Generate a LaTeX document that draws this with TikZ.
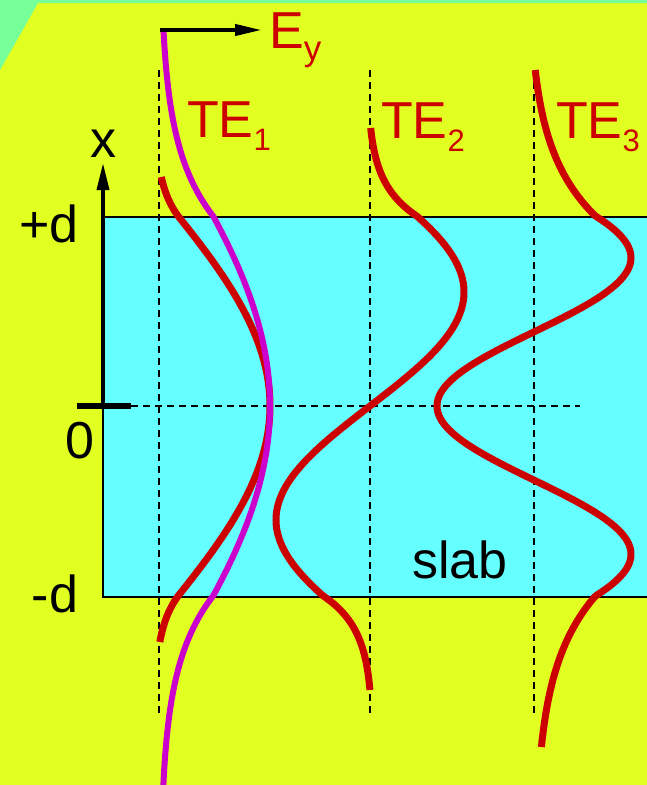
\documentclass[tikz,border=0pt]{standalone}
\usepackage{fontspec}
\setmainfont{Liberation Sans}
\usetikzlibrary{arrows.meta}
\definecolor{bgyellow}{RGB}{226,255,34}
\definecolor{topgreen}{RGB}{119,255,153}
\definecolor{slabcyan}{RGB}{102,255,255}
\definecolor{modered}{RGB}{204,0,0}
\definecolor{modemag}{RGB}{204,0,204}
\newcommand{\mysubscript}[3]{\raisebox{-#1pt}{\fontsize{#2}{#2}\selectfont #3}}
\begin{document}
\begin{tikzpicture}[x=1pt,y=-1pt,
  declare function={
    fm(\u)=(abs(\u)<190) ? 110*cos(deg(0.00562*\u)) : 110*cos(deg(1.0678))*exp(-0.0146*(abs(\u)-190));
    fa(\u)=(abs(\u)<190) ? 110*cos(deg(0.0074*\u)) : 110*cos(deg(1.406))*(exp(-0.03*(abs(\u)-190))-exp(-1.35))/(1-exp(-1.35));
    fb(\u)=(abs(\u)<190) ? 94*sin(deg(0.0138*\u)) : (2*(\u>0)-1)*94*sin(deg(2.622))*(exp(-0.03*(abs(\u)-190))-exp(-2.85))/(1-exp(-2.85));
    fctop(\s)=(exp(-0.015*\s)-exp(-2.37))/(1-exp(-2.37));
    fcbot(\s)=exp(-0.014*\s);
    fc(\u)=(abs(\u)<190) ? -97*cos(deg(0.0212*\u)) : -97*cos(deg(4.028))*((\u>0) ? fctop(abs(\u)-190) : fcbot(abs(\u)-190));
  },
  guide/.style={black, line width=1.8pt, dash pattern=on 7pt off 5pt},
  modecurve/.style={modered, line width=7pt, line join=round},
  fieldcurve/.style={modemag, line width=6pt, line join=round},
  lbl/.style={inner sep=0pt, font=\fontsize{52}{60}\selectfont},
  redlbl/.style={lbl, text=modered},
  tip/.style={-{Triangle[length=27pt,width=12pt]}}
]
% background
\fill[bgyellow] (0,0) rectangle (647,785);
\useasboundingbox (0,0) rectangle (647,785);
\fill[topgreen] (0,0) -- (647,0) -- (647,3) -- (38,3) -- (0,70) -- cycle;
% slab
\fill[slabcyan] (103,217) rectangle (647,597);
\draw[line width=2pt] (647,217) -- (103,217) -- (103,597) -- (647,597);
% guide lines
\coordinate (g1t) at (159,70);  \coordinate (g1b) at (159,716);
\coordinate (g2t) at (370,70);  \coordinate (g2b) at (370,716);
\coordinate (g3t) at (534,70);  \coordinate (g3b) at (534,716);
\coordinate (h0l) at (131,406); \coordinate (h0r) at (580,406);
\draw[guide] (g1t) -- (g1b);
\draw[guide] (g2t) -- (g2b);
\draw[guide] (g3t) -- (g3b);
\draw[guide] (h0l) -- (h0r);
% axis
\coordinate (tickl) at (77,406); \coordinate (tickr) at (131,406);
\coordinate (axbot) at (103,406); \coordinate (axtop) at (103,163);
\draw[line width=6pt] (tickl) -- (tickr);
\draw[tip, line width=3.5pt] (axbot) -- (axtop);
% mode curves
\draw[modecurve] plot[domain=177:642, samples=240, variable=\y] ({160+fa(406-\y)},\y);
\draw[modecurve] plot[domain=128:690, samples=280, variable=\y] ({370+fb(406-\y)},\y);
\draw[modecurve] plot[domain=70:747, samples=340, variable=\y] ({534+fc(406-\y)},\y);
\draw[fieldcurve] plot[domain=29:785, samples=300, variable=\y] ({160+fm(406-\y)},\y);
% field arrow
\coordinate (eys) at (160,30); \coordinate (eye) at (262,30);
\draw[-{Triangle[length=27pt,width=11pt]}, line width=4pt] (eys) -- (eye);
% labels
\node[redlbl, anchor=base west] (ey) at (269,48) {E\mysubscript{12}{35}{y}};
\node[redlbl, anchor=base west] (te1) at (187,137) {TE\mysubscript{13}{31}{1}};
\node[redlbl, anchor=base west] (te2) at (381,138) {TE\mysubscript{13}{31}{2}};
\node[redlbl, anchor=base west] (te3) at (556,138) {TE\mysubscript{13}{31}{3}};
\node[lbl, anchor=base] (xl) at (103,157) {x};
\node[lbl, anchor=base] (pd) at (49,242) {+d};
\node[lbl, anchor=base] (zl) at (80,458) {0};
\node[lbl, anchor=base] (md) at (55,612) {-d};
\node[lbl, anchor=base] (sl) at (460,578) {slab};
\end{tikzpicture}
\end{document}
